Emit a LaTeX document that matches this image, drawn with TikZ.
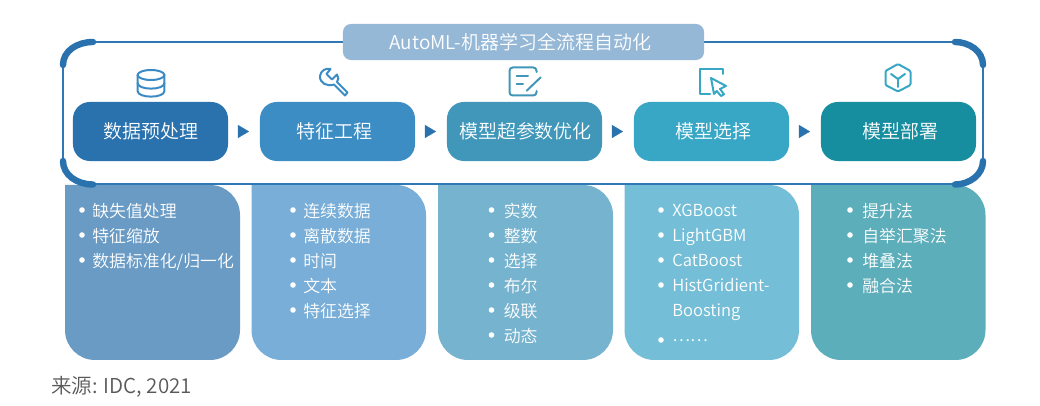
\documentclass[tikz,border=0pt]{standalone}
\usepackage{fontspec}
\setmainfont{Noto Sans CJK SC}[UprightFont=* DemiLight]
\usetikzlibrary{arrows.meta}
\definecolor{stepa}{HTML}{2A72AE}
\definecolor{stepb}{HTML}{3D8DC5}
\definecolor{stepc}{HTML}{4097B9}
\definecolor{stepd}{HTML}{38A6C5}
\definecolor{stepe}{HTML}{178EA0}
\definecolor{panela}{HTML}{6A9BC5}
\definecolor{panelb}{HTML}{78AED7}
\definecolor{panelc}{HTML}{76B3CF}
\definecolor{paneld}{HTML}{74BED7}
\definecolor{panele}{HTML}{5BAEBA}
\definecolor{framecol}{HTML}{2F78B5}
\definecolor{titlecol}{HTML}{96B8D7}
\definecolor{sourcecol}{HTML}{595959}

\begin{document}
\begin{tikzpicture}[
  x=0.025cm, y=-0.025cm,
  stepbox/.style={text=white, minimum width=3.875cm, minimum height=1.475cm, rounded corners=0.42cm, outer sep=0pt, inner sep=0pt, font=\fontsize{13.5}{16}\selectfont},
  titlebox/.style={fill=titlecol, text=white, minimum width=9.025cm, minimum height=0.9cm, rounded corners=0.2cm, font=\fontsize{13.5}{15}\selectfont},
  item/.style={anchor=base west, text=white, inner sep=0pt, font=\fontsize{12}{14}\selectfont},
  latinitem/.style={item, font=\fontsize{11.8}{14}\selectfont},
  flow/.style={-{Triangle[length=0.275cm, width=0.325cm]}, line width=0.1pt, stepa, shorten <=0.25cm, shorten >=0.275cm},
  frameline/.style={draw=framecol, line width=0.05cm},
  framearc/.style={draw=stepa, line width=0.16cm, line cap=round},
  icon/.style={line width=0.05cm, line join=round, line cap=round}
]
\useasboundingbox (0,0) rectangle (1040,406);

% Panels (esquinas redondeadas solo abajo)
\foreach \xa/\xb/\col in {65/240/panela, 251.5/426/panelb, 438/613/panelc, 624.5/799/paneld, 811/985.5/panele}
  \fill[\col, rounded corners=0.75cm] (\xa,185) -- (\xa,360) -- (\xb,360) -- (\xb,185) [sharp corners] -- cycle;

% Frame
\draw[frameline] (93,41.7) -- (955,41.7);
\draw[frameline] (93,184.5) -- (955,184.5);
\draw[frameline] (63.3,65) -- (63.3,161);
\draw[frameline] (983.2,65) -- (983.2,161);
\draw[framearc] (63,65) .. controls (63,51) and (77,42) .. (93,42);
\draw[framearc] (63,161) .. controls (63,175) and (77,184.5) .. (93,184.5);
\draw[framearc] (983,65) .. controls (983,51) and (969,42) .. (955,42);
\draw[framearc] (983,161) .. controls (983,175) and (969,184.5) .. (955,184.5);
\node[titlebox] (title) at (523.5,42) {AutoML-机器学习全流程自动化\hspace{0.16cm}\null};

% Steps
\node[stepbox, fill=stepa] (prep) at (150.5,131.5) {\hspace*{0.03cm}数据预处理};
\node[stepbox, fill=stepb] (feat) at (337.5,131.5) {特征工程\hspace{0.15cm}\null};
\node[stepbox, fill=stepc] (hpo) at (524.5,131.5) {\hspace*{0.05cm}模型超参数优化};
\node[stepbox, fill=stepd] (sel) at (711.5,131.5) {\hspace*{0.1cm}模型选择};
\node[stepbox, fill=stepe] (depl) at (898.5,131.5) {\hspace*{0.12cm}模型部署};
\draw[flow] (prep) -- (feat);
\draw[flow] (feat) -- (hpo);
\draw[flow] (hpo) -- (sel);
\draw[flow] (sel) -- (depl);

% Icons
\draw[icon, stepb!90!stepa] (151,75) ellipse [x radius=0.335cm, y radius=0.125cm];
\draw[icon, stepb!90!stepa] (137.6,75) -- (137.6,91) .. controls (137.6,98.5) and (164.4,98.5) .. (164.4,91) -- (164.4,75);
\draw[icon, stepb!90!stepa] (137.6,83) .. controls (137.6,90.5) and (164.4,90.5) .. (164.4,83);
\draw[icon, stepb] (330.5,69) -- (326.5,74) -- (332,79.5) -- (337,74.5) .. controls (339,77) and (338.5,80) .. (337,82) -- (347.5,92.5) -- (345,95.5) -- (334,84.5) .. controls (327,87) and (319.5,83) .. (320,76) .. controls (320.5,71) and (326,67.5) .. (330.5,69) -- cycle;
\draw[icon, stepc, rounded corners=0.08cm] (536.5,72) -- (536.5,67.5) -- (509.5,67.5) -- (509.5,95.5) -- (536.5,95.5) -- (536.5,91);
\draw[icon, stepc] (516.7,75.7) -- (528,75.7);
\draw[icon, stepc] (516.7,84.3) -- (523,84.3);
\draw[icon, stepc] (540.7,77.3) -- (526.7,90.7);
\draw[icon, stepd] (723,74) -- (723,69.5) -- (699.5,69.5) -- (699.5,94.5) -- (710,94.5);
\draw[icon, stepd] (711,78) -- (726,86) -- (720,89) -- (724,94.3) -- (721,96) -- (716.7,91) -- (714,94) -- cycle;
\draw[icon, stepd, rounded corners=0.03cm] (898,64) -- (910.5,71) -- (910.5,85) -- (898,91.5) -- (885.5,85) -- (885.5,71) -- cycle;
\draw[icon, stepd] (898,79) -- (891,74);
\draw[icon, stepd] (898,79) -- (905,74);
\draw[icon, stepd] (898,79) -- (898,87);

% Lists
\foreach \txt [count=\i] in {缺失值处理, 特征缩放, 数据标准化/归一化} {
  \node[item] (prep-\i) at (92,192.5+25*\i) {\txt};
  \fill[white] (82,185+25*\i) circle [radius=0.07cm];
}
\foreach \txt [count=\i] in {连续数据, 离散数据, 时间, 文本, 特征选择} {
  \node[item] (feat-\i) at (303,192.5+25*\i) {\txt};
  \fill[white] (293,185+25*\i) circle [radius=0.07cm];
}
\foreach \txt [count=\i] in {实数, 整数, 选择, 布尔, 级联, 动态} {
  \node[item] (hpo-\i) at (503.5,192.5+25*\i) {\txt};
  \fill[white] (491.5,185+25*\i) circle [radius=0.07cm];
}
\foreach \txt [count=\i] in {XGBoost, LightGBM, CatBoost, HistGridient-} {
  \node[latinitem] (sel-\i) at (672,192+25*\i) {\txt};
  \fill[white] (661,185+25*\i) circle [radius=0.07cm];
}
\node[latinitem] (sel-5) at (672,317) {Boosting};
\node[item] (sel-6) at (672,342) {……};
\fill[white] (661,340) circle [radius=0.07cm];
\foreach \txt [count=\i] in {提升法, 自举汇聚法, 堆叠法, 融合法} {
  \node[item] (depl-\i) at (862,192.5+25*\i) {\txt};
  \fill[white] (850,185+25*\i) circle [radius=0.07cm];
}

% Source
\node[anchor=base west, inner sep=0pt, text=sourcecol, font=\fontsize{14.6}{17}\selectfont] (source) at (51,393) {来源: IDC, 2021};
\end{tikzpicture}
\end{document}
